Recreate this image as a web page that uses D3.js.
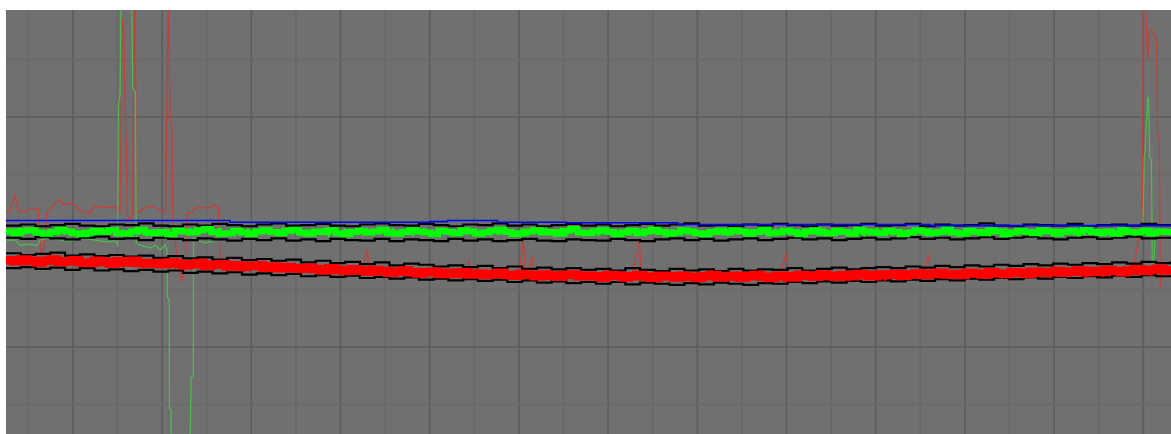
<!DOCTYPE html>
<html>
<head>
<meta charset="utf-8">
<script src="https://cdn.jsdelivr.net/npm/d3@7"></script>
<style>
  html, body { margin: 0; padding: 0; background: #fff; }
  svg { display: block; }
</style>
</head>
<body>
<svg id="chart"></svg>
<script>
// visible window: time (s) and signal level (raw units)
const timeDomain = [25, 1331];
const levelDomain = [-151.3, 586];

// main green signal (averaged), sampled evenly over the window
const greenBand = [
  201,198,202,203,199,197,200,204,201,198,196,199,202,200,203,198,197,201,204,199,
  198,200,196,202,201,199,203,205,200,197,198,202,199,196,201,203,200,198,202,204,
  199,197,201,200,203,198,196,200,202,199,201,204,198,197,200,203,201,199,196,202,
  200,198,203,201,197,199,202,204,200,196,198,201,203,199,200,197,202,205,199,198,
  201,203,200,196,199,202,198,201,204,200,197,199,203,201,198,196,200,202,199,203,
  201,197,200,204,198,199,202,200,196,201,203,199,198,202,200,197,204,201,199,198,
  202,200,196,199,203,201,198,200,205,199,197,202,200,198,203,201,196,199,202,200,
  198,203,201,197,200,202,199,204,200,198,201,197,203,200,199,202,198,201,200,199
];
// green signal, raw samples (noise)
const greenRaw = [
  204,196,201,206,194,199,203,197,205,193,200,198,204,195,202,207,197,201,194,203,199,205,196,200,202,
  197,205,199,194,203,200,196,206,198,202,193,201,204,197,199,205,195,202,198,206,194,200,203,196,201,
  203,195,200,207,197,199,194,204,201,196,205,198,193,202,200,206,196,199,203,195,201,197,205,194,200,
  198,204,196,201,206,193,200,203,197,205,199,195,202,207,196,200,194,204,198,201,196,206,199,193,203,
  201,194,205,199,197,203,195,200,206,198,202,194,199,204,196,201,205,197,193,202,200,206,195,199,204,
  196,202,199,205,194,200,203,197,201,207,195,198,204,200,193,202,206,196,199,203,197,205,194,201,198,
  204,197,193,201,206,199,196,203,200,194,205,198,202,196,204,199,193,201,206,197,200,203,195,199,202,
  199,205,196,202,194,200,207,198,201,195,203,197,204,200,193,199,205,196,202,198,206,194,201,203,197,
  202,195,200,206,197,203,194,199,204,196,201,205,198,193,202,200,207,196,199,203,195,201,204,197,200,
  196,203,199,194,205,200,197,202,206,195,199,203,196,201,194,204,198,200,205,193,202,199,196,206,201,
  203,197,201,195,204,199,206,196,200,202,194,205,198,201,197,203,193,200,204,196,199,205,202,195,200,
  198,204,196,201,205,194,200,203,197,202,195,206,199,201,200
];

// main red signal (averaged)
const redBand = [
  151,149,152,150,147,150,152,148,149,151,147,146,150,148,145,149,147,150,146,145,
  146,144,147,145,142,144,146,141,143,144,140,142,139,141,142,138,140,137,139,137,
  136,138,135,133,137,134,132,135,133,131,134,132,129,131,133,130,128,130,131,127,
  129,127,130,126,128,125,127,129,125,124,127,125,123,126,124,122,125,126,123,124,
  123,121,125,124,121,123,125,122,120,124,123,121,124,122,120,123,125,121,122,124,
  121,123,125,122,120,124,123,121,125,124,122,126,124,122,125,123,127,125,123,126,
  125,127,124,126,128,125,127,129,126,127,125,129,128,126,130,128,127,130,129,127,
  131,129,130,132,129,131,133,130,132,131,134,132,130,133,135,132,134,136,133,135
];
// red signal, raw samples (noise)
const redRaw = [
  155,144,152,147,157,143,151,149,154,142,150,156,145,148,153,141,150,147,155,144,149,152,140,151,146,
  150,141,147,152,139,145,149,143,151,138,146,144,150,140,147,142,149,137,145,143,148,136,144,146,139,
  145,136,142,147,134,140,144,137,143,132,141,139,145,133,138,142,136,144,131,139,137,143,130,138,135,
  140,131,137,142,129,135,139,132,138,127,136,134,140,128,133,137,131,139,126,134,132,138,125,133,130,
  135,126,132,137,124,130,134,127,133,122,131,129,135,123,128,132,126,134,121,129,127,133,120,128,125,
  131,122,128,133,120,126,130,123,129,118,127,125,131,119,124,128,122,130,117,125,123,129,116,124,121,
  128,119,125,130,117,123,127,120,126,115,124,122,128,116,121,125,119,127,114,122,120,126,113,121,118,
  127,118,124,129,116,122,126,119,125,114,123,121,127,115,120,124,118,126,113,121,119,125,114,122,120,
  128,119,125,130,117,124,127,121,126,116,125,123,129,117,122,127,120,128,116,124,122,128,117,125,123,
  131,122,128,133,120,127,130,124,129,119,128,126,132,120,125,130,123,131,119,127,125,131,120,128,126,
  133,124,131,136,122,129,133,126,132,121,130,129,135,123,128,133,126,134,122,130,128,134,123,131,129,
  137,127,134,139,126,133,137,130,136,125,134,133,139,128,136
];

// min / max envelopes
const greenHigh = [
  211,213,210,212,214,211,210,213,212,215,211,210,213,211,214,212,210,213,215,211,
  212,214,211,210,213,215,212,211,214,212,210,213,212,215,211,213,210,212,214,211,
  213,210,212,214,211,213,215,211,212,210,213,211,214,212,210,213,211,212,214,211,
  212,214,210,213,211,212,215,211,210,213,212,211,214,210,212,213,211,214,212,211
];
const greenLow = [
  190,188,191,189,187,190,192,188,189,186,190,188,186,189,187,185,188,186,189,185,
  187,184,188,186,185,188,184,187,186,184,188,185,187,184,186,188,185,184,187,186,
  185,188,186,184,187,189,186,188,185,187,189,186,188,190,187,189,186,188,190,187,
  189,191,188,190,187,189,191,188,190,192,189,187,190,191,188,190,192,189,190,188
];
const redHigh = [
  163,160,162,164,159,161,158,160,157,159,155,158,154,156,152,155,151,153,150,152,
  147,150,146,148,144,147,142,145,143,140,142,139,141,137,140,136,138,135,137,134,
  136,133,137,134,132,136,133,135,132,136,133,135,134,137,133,136,138,135,137,139,
  137,140,138,141,139,142,140,143,141,144,142,145,143,146,144,147,145,148,146,149
];
const redLow = [
  137,139,136,138,134,137,133,135,132,134,131,133,129,131,128,130,126,128,125,127,
  123,125,122,124,120,122,119,121,117,119,116,118,115,117,113,116,112,114,111,113,
  110,113,109,112,110,108,111,109,112,110,108,111,110,113,111,114,112,115,113,116,
  114,117,115,118,116,119,117,120,118,121,119,122,120,123,121,124,122,125,123,124
];

// setpoint (stepped)
const blueLine = [
  [25,220],[276,217],[500,218],[520,220],[576,217],[654,216],[778,213],[1061,211],[1331,211]
];

// second red sensor, with dropouts
const redTrace = [
  [25,233],[29,235],[35,264],[40,235],[49,238],[61,242],[64,165],[67,169],[71,233],[74,238],
  [80,250],[86,256],[89,247],[97,250],[103,245],[110,235],[119,233],[125,247],[130,243],[142,243],
  [150,242],[153,233],[155,572],[157,555],[159,383],[160,343],[161,230],[164,221],[167,230],[169,620],
  [170,595],[171,233],[175,235],[181,242],[189,245],[198,238],[204,235],[207,620],[209,398],[211,386],
  [212,226],[217,151],[222,113],[226,139],[228,233],[234,235],[239,243],[246,242],[254,242],[257,247],
  [263,243],[265,157],[271,146],[355,136],[424,132],[430,170],[432,136],[500,130],[539,127],[544,151],
  [546,130],[600,125],[605,186],[607,130],[610,127],[615,157],[617,129],[669,124],[727,125],[735,183],
  [737,130],[803,122],[892,123],[900,163],[902,130],[971,124],[1053,127],[1059,160],[1061,134],[1140,129],
  [1274,132],[1289,139],[1299,226],[1300,595],[1302,610],[1305,499],[1307,551],[1309,551],[1311,546],[1315,534],
  [1316,372],[1318,360],[1319,104],[1321,130],[1331,137]
];

// second green sensor, with dropouts
const greenTrace = [
  [25,186],[35,186],[41,177],[52,179],[60,176],[63,186],[74,190],[86,186],[97,184],[108,190],
  [125,186],[136,183],[147,184],[150,177],[151,424],[153,438],[154,638],[166,638],[167,450],[170,443],
  [171,181],[175,177],[187,172],[192,177],[198,169],[203,177],[205.6,169],[205.8,87],[208,82],[208.2,-106],
  [210,-110],[210.2,-197],[231,-197],[232.5,-54],[235,-49],[235.2,190],[239,186],[248,181],[256,183],[263,190],
  [266,200],[579,200],[1298,200],[1299,203],[1300,233],[1301,330],[1302,343],[1305,435],[1306,430],[1307,330],
  [1309,325],[1310,146],[1312,148],[1313,200],[1331,200]
];

const width = 1171, height = 434;
const margin = { top: 10, right: 0, bottom: 0, left: 6 };

const svg = d3.select("#chart")
  .attr("width", width)
  .attr("height", height);

const x = d3.scaleLinear().domain(timeDomain).range([margin.left, width - margin.right]);
const y = d3.scaleLinear().domain(levelDomain).range([height - margin.bottom, margin.top]);

// plot background + clip
svg.append("defs").append("clipPath").attr("id", "plot")
  .append("rect")
  .attr("x", margin.left).attr("y", margin.top)
  .attr("width", width - margin.left - margin.right)
  .attr("height", height - margin.top - margin.bottom);

svg.append("rect")
  .attr("x", margin.left).attr("y", margin.top)
  .attr("width", width - margin.left - margin.right)
  .attr("height", height - margin.top - margin.bottom)
  .attr("fill", "#707070");

const g = svg.append("g").attr("clip-path", "url(#plot)");

// grid: major every 100 s / 200 units, minor halfway
const xTicks = d3.range(50, timeDomain[1], 50);
const yTicks = d3.range(-100, levelDomain[1], 100);

g.append("g").selectAll("line")
  .data(xTicks)
  .enter().append("line")
  .attr("x1", d => x(d)).attr("x2", d => x(d))
  .attr("y1", margin.top).attr("y2", height)
  .attr("stroke", d => d % 100 === 0 ? "#5d5d5d" : "#686868")
  .attr("stroke-width", 1.6);

g.append("g").selectAll("line")
  .data(yTicks)
  .enter().append("line")
  .attr("x1", margin.left).attr("x2", width)
  .attr("y1", d => y(d)).attr("y2", d => y(d))
  .attr("stroke", d => d % 200 === 0 ? "#5d5d5d" : "#686868")
  .attr("stroke-width", 1.6);

// evenly sampled series -> [t, v]
const sampled = vals => vals.map((v, i) => [
  timeDomain[0] + i * (timeDomain[1] - timeDomain[0]) / (vals.length - 1), v
]);

const line = d3.line().x(d => x(d[0])).y(d => y(d[1]));
const stepLine = d3.line().x(d => x(d[0])).y(d => y(d[1])).curve(d3.curveStepAfter);

function draw(data, gen, color, w) {
  g.append("path")
    .datum(data)
    .attr("fill", "none")
    .attr("stroke", color)
    .attr("stroke-width", w)
    .attr("stroke-linejoin", "miter")
    .attr("d", gen);
}

draw(redTrace, line, "#c4403c", 1.3);
draw(greenTrace, line, "#4fb84f", 1.3);

[greenHigh, greenLow, redHigh, redLow].forEach(env => {
  draw(sampled(env), stepLine, "#000000", 2.2);
});

draw(sampled(redBand), stepLine, "#ff0000", 8.5);
draw(sampled(redRaw), line, "#ff0000", 1.6);
draw(sampled(greenBand), stepLine, "#00ff00", 6);
draw(sampled(greenRaw), line, "#00ff00", 1.5);
draw(blueLine, stepLine, "#0000ff", 1.6);
</script>
</body>
</html>
